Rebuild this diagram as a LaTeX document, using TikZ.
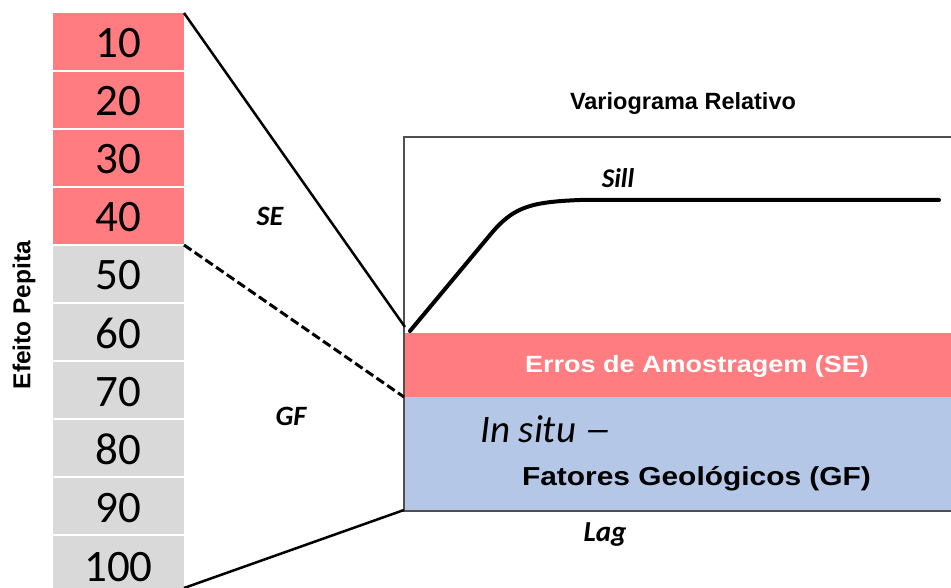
\documentclass[tikz,border=0pt]{standalone}
\usepackage{fontspec}
\setmainfont{Liberation Sans}
\newfontfamily\calib{Carlito}
\newfontfamily\arialb{Liberation Sans}
\definecolor{sered}{HTML}{FF7C80}
\definecolor{colgray}{HTML}{D9D9D9}
\definecolor{gfblue}{HTML}{B4C7E7}
\definecolor{framegray}{HTML}{505050}
\tikzset{
  cell/.style={draw=white, line width=1.5pt},
  numtxt/.style={anchor=base, inner sep=0pt, font=\calib\fontsize{45}{50}\selectfont},
  lbl/.style={inner sep=0pt, font=\calib\bfseries\itshape\fontsize{28}{30}\selectfont},
  ttl/.style={inner sep=0pt, font=\arialb\bfseries\fontsize{23.5}{26}\selectfont},
  link/.style={line width=2.5pt},
  dlink/.style={line width=3pt, dash pattern=on 9pt off 4pt},
  frameline/.style={draw=framegray, line width=1.6pt},
}
\begin{document}
\begin{tikzpicture}[x=1pt,y=-1pt]
\useasboundingbox (0,0) rectangle (951,588);
% left column
\foreach \i/\v in {0/10,1/20,2/30,3/40}{
  \fill[sered] (53,{13+58*\i}) rectangle (184,{71+58*\i});
}
\foreach \i/\v in {4/50,5/60,6/70,7/80,8/90,9/100}{
  \fill[colgray] (53,{13+58*\i}) rectangle (184,{71+58*\i});
}
\foreach \i in {1,...,9}{
  \draw[white, line width=1.5pt] (53,{13+58*\i}) -- (184,{13+58*\i});
}
\foreach \i/\v in {0/10,1/20,2/30,3/40,4/50,5/60,6/70,7/80,8/90}{
  \node[numtxt] (n\v) at (118.5,{58+58*\i}) {\v};
}
\node[numtxt] (n100) at (118.5,581) {100};
\node[ttl, rotate=90, font=\arialb\bfseries\fontsize{24.5}{26}\selectfont] (efeito) at (24,315) {Efeito Pepita};
% coordinates
\coordinate (c10) at (184,13);
\coordinate (c40) at (184,245);
\coordinate (c100) at (184,588);
\coordinate (o) at (405,327);
\coordinate (m) at (404,397);
\coordinate (b) at (404,510);
% bands
\fill[sered] (405,333) rectangle (951,397);
\fill[gfblue] (405,397) rectangle (951,510);
% frame
\draw[frameline] (951,137) -- (404,137) -- (404,511) -- (951,511);
% connectors
\draw[link] (c10) -- (o);
\draw[dlink] (c40) -- (m);
\draw[link] (c100) -- (b);
% variogram curve
\draw[line width=4pt, line cap=round, line join=round] (410,331) -- (490,235) .. controls (513,207) and (530,202) .. (580,200) -- (939,200);
% texts
\node[ttl] (title) at (683,103) {Variograma Relativo};
\node[lbl] (se) at (270,216) {SE};
\node[lbl] (gf) at (291,416) {GF};
\node[lbl, font=\calib\bfseries\itshape\fontsize{27}{29}\selectfont] (sill) at (618,178) {Sill};
\node[lbl, font=\calib\bfseries\itshape\fontsize{29}{31}\selectfont] (lag) at (605,535) {Lag};
\node[inner sep=0pt, text=white, font=\arialb\bfseries\fontsize{23.5}{26}\selectfont] (erros) at (697,366) {\scalebox{1.15}[1]{Erros de Amostragem (SE)}};
\node[anchor=base west, inner sep=0pt, font=\calib\itshape\fontsize{39}{42}\selectfont] (insitu) at (480,442) {In situ \scalebox{1.4}[1]{–}};
\node[anchor=base, inner sep=0pt, font=\arialb\bfseries\fontsize{26}{28}\selectfont] (fatores) at (696.5,485) {\scalebox{1.15}[1]{Fatores Geológicos (GF)}};
\end{tikzpicture}
\end{document}
